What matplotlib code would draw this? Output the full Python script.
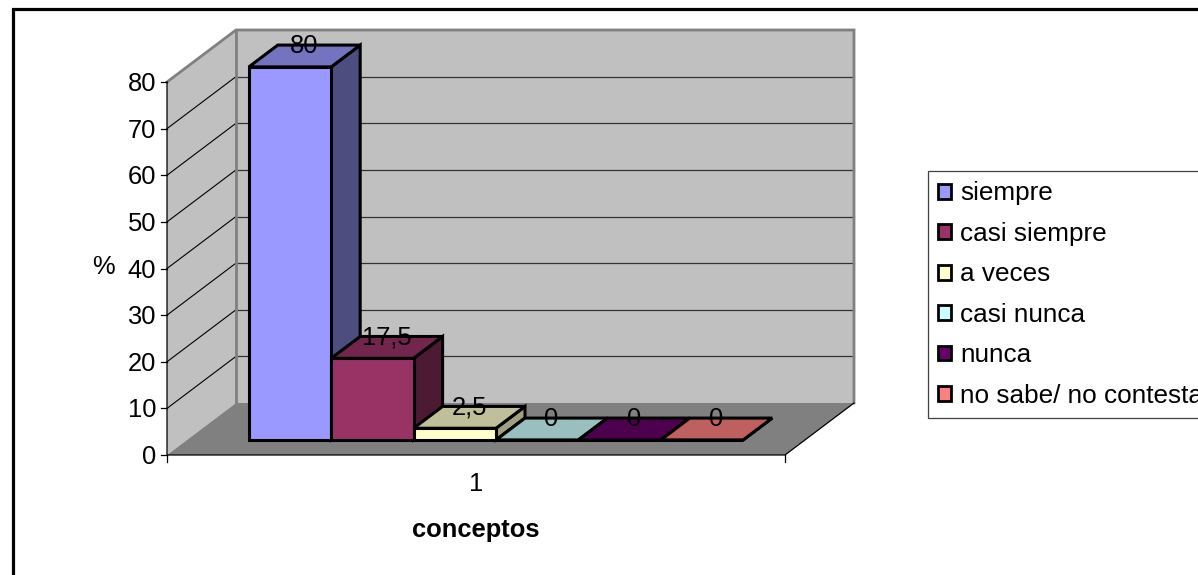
import matplotlib
matplotlib.use("Agg")
import matplotlib.pyplot as plt
from matplotlib.lines import Line2D
from matplotlib.patches import Patch, Polygon

plt.rcParams['font.family'] = ['Liberation Sans', 'DejaVu Sans']

categories = ['siempre', 'casi siempre', 'a veces', 'casi nunca', 'nunca', 'no sabe/ no contesta']
values = [80, 17.5, 2.5, 0, 0, 0]
value_labels = ['80', '17,5', '2,5', '0', '0', '0']
front_colors = ['#9999FF', '#993366', '#FFFFCC', '#CCFFFF', '#660066', '#FF8080']
top_colors = ['#7373BF', '#73264D', '#BFBF99', '#99BFBF', '#4D004D', '#BF6060']
side_colors = ['#4D4D80', '#4D1A33', '#A0A080', '#80A0A0', '#330033', '#804040']
y_ticks = [0, 10, 20, 30, 40, 50, 60, 70, 80]

W, H = 1198, 575
SLOT = 82.4        # px per bar slot
UNIT = 373 / 80    # px per percent
X0, Y0 = 167, 455  # front corner of the floor, px
DX = 69 / SLOT     # oblique offset of the full depth, in slots
DY = 52 / UNIT     # same, in percent
GAP = 0.75
N_SLOTS = len(values) + 2 * GAP
BAR_FRONT, BAR_BACK = 0.29, 0.71
FS = 18.4
GREY = '#808080'


def proj(x, v, d=0.0):
    # oblique projection of (slot, value, depth) onto the flat axes
    return (x + d * DX, v + d * DY)


def face(ax, pts, color, lw=0.0, edge='none', z=1):
    ax.add_patch(Polygon([proj(*p) for p in pts], closed=True, facecolor=color,
                         edgecolor=edge, linewidth=lw, joinstyle='miter', zorder=z))


fig = plt.figure(figsize=(W / 100, H / 100), dpi=100, facecolor='white')
ax = fig.add_axes([0, 0, 1, 1])
ax.set_xlim(-X0 / SLOT, (W - X0) / SLOT)
ax.set_ylim(-(H - Y0) / UNIT, Y0 / UNIT)
ax.axis('off')

top = y_ticks[-1]

# walls and floor
face(ax, [(0, 0, 0), (0, 0, 1), (0, top, 1), (0, top, 0)], '#C0C0C0')
face(ax, [(0, 0, 1), (N_SLOTS, 0, 1), (N_SLOTS, top, 1), (0, top, 1)], '#C0C0C0')
face(ax, [(0, 0, 0), (N_SLOTS, 0, 0), (N_SLOTS, 0, 1), (0, 0, 1)], GREY)

# gridlines
for v in y_ticks[1:-1]:
    ax.plot(*zip(proj(0, v, 0), proj(0, v, 1)), color='black', lw=0.8, zorder=2)
    ax.plot(*zip(proj(0, v, 1), proj(N_SLOTS, v, 1)), color='#333333', lw=0.9, zorder=2)

# wall outline
outline = [proj(0, top, 0), proj(0, top, 1), proj(N_SLOTS, top, 1), proj(N_SLOTS, 0, 1)]
ax.plot(*zip(*outline), color=GREY, lw=2.0, solid_joinstyle='miter', zorder=2)
ax.plot(*zip(proj(0, 0, 1), proj(0, top, 1)), color=GREY, lw=2.0, zorder=2)

# axis lines and ticks
ax.plot(*zip(proj(0, top), proj(0, 0), proj(N_SLOTS, 0), proj(N_SLOTS, 0, 1)),
        color='black', lw=0.9, zorder=3)
for v in y_ticks:
    ax.plot([-6 / SLOT, 0], [v, v], color='black', lw=0.9, zorder=3)
    ax.text(-11 / SLOT, v - 2 / UNIT, str(v), ha='right', va='center', fontsize=FS)
for x in (0, N_SLOTS):
    ax.plot([x, x], [0, -7 / UNIT], color='black', lw=0.9, zorder=3)

# bars, left to right so each one hides the side of the previous
z = 4
for i, v in enumerate(values):
    x0, x1 = GAP + i, GAP + i + 1
    face(ax, [(x1, 0, BAR_FRONT), (x1, 0, BAR_BACK), (x1, v, BAR_BACK), (x1, v, BAR_FRONT)],
         side_colors[i], 2.2, 'black', z)
    face(ax, [(x0, v, BAR_FRONT), (x1, v, BAR_FRONT), (x1, v, BAR_BACK), (x0, v, BAR_BACK)],
         top_colors[i], 2.2, 'black', z + 1)
    face(ax, [(x0, 0, BAR_FRONT), (x1, 0, BAR_FRONT), (x1, v, BAR_FRONT), (x0, v, BAR_FRONT)],
         front_colors[i], 2.2, 'black', z + 2)
    z += 3

for i, (v, lab) in enumerate(zip(values, value_labels)):
    lx, ly = proj(GAP + i + 0.5, v, BAR_BACK)
    ax.text(lx - 0.18, ly - 1 / UNIT, lab, ha='center', va='center', fontsize=FS, zorder=40)

# axis titles
ax.text((476 - X0) / SLOT, (Y0 - 484) / UNIT, '1', ha='center', va='center', fontsize=FS)
ax.text((476 - X0) / SLOT, (Y0 - 530) / UNIT, 'conceptos', ha='center', va='center',
        fontsize=FS, fontweight='bold')
ax.text((103 - X0) / SLOT, (Y0 - 267) / UNIT, '%', ha='center', va='center', fontsize=FS)

# legend runs off the right edge
handles = [Patch(facecolor=c, edgecolor='black', linewidth=2.0) for c in front_colors]
leg = ax.legend(handles, categories, loc='upper left',
                bbox_to_anchor=(928 / W, 1 - 171 / H), bbox_transform=fig.transFigure,
                fontsize=18.8, frameon=True, fancybox=False, edgecolor='#404040',
                framealpha=1, borderpad=0.40, borderaxespad=0, labelspacing=0.63,
                handlelength=0.49, handleheight=0.5, handletextpad=0.35)
leg.get_frame().set_linewidth(0.9)

# outer chart border, open at the right and bottom
border = Line2D([12.5 / W, 12.5 / W, 1], [0, 1 - 8.5 / H, 1 - 8.5 / H], transform=fig.transFigure,
                color='black', lw=2.3, solid_joinstyle='miter')
fig.add_artist(border)

fig.savefig('out.png', dpi=100)
